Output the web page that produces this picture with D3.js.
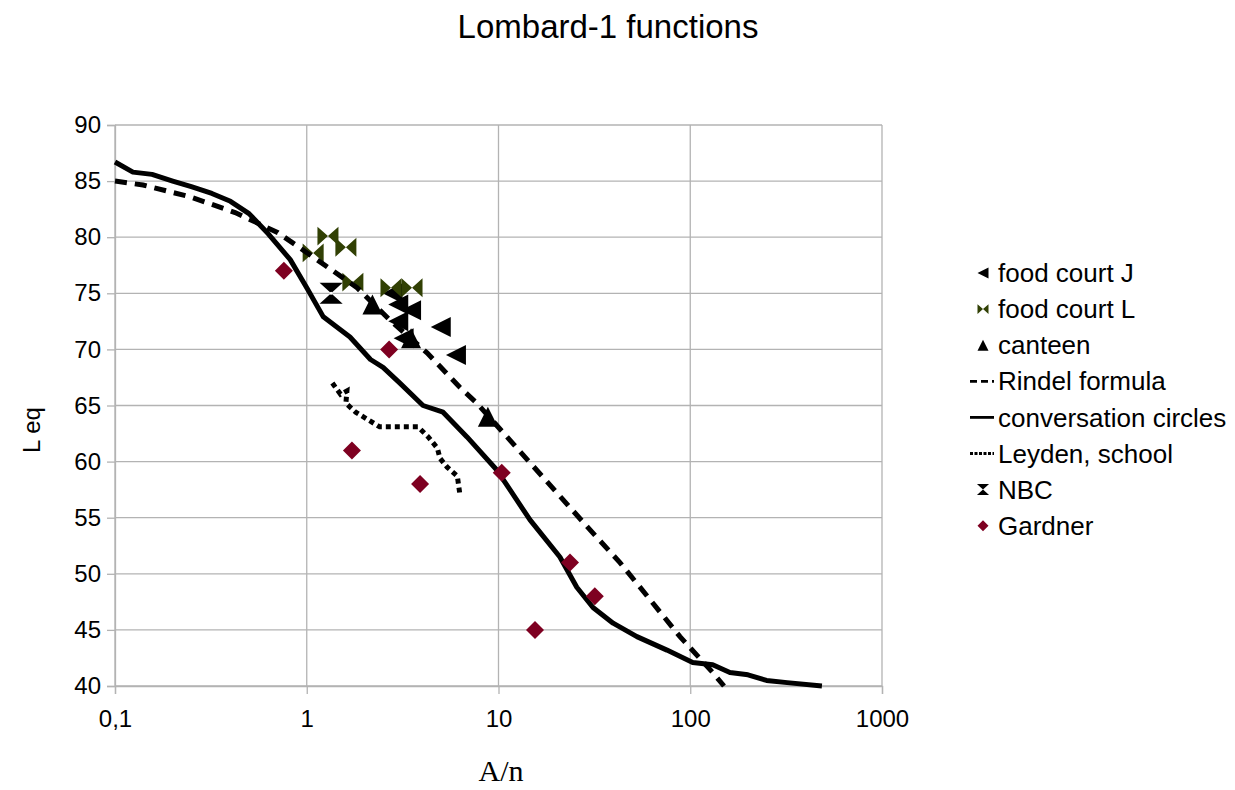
<!DOCTYPE html>
<html>
<head>
<meta charset="utf-8">
<script src="https://cdn.jsdelivr.net/npm/d3@7"></script>
<style>
body { margin: 0; background: #fff; }
text { font-family: "Liberation Sans", Arial, sans-serif; fill: #000; }
</style>
</head>
<body>
<svg id="chart" width="1235" height="790"></svg>
<script>
// ---- data ----
var xTicks = [0.1, 1, 10, 100, 1000];
var xTickLabels = ["0,1", "1", "10", "100", "1000"];
var yTicks = [40, 45, 50, 55, 60, 65, 70, 75, 80, 85, 90];

// point series
var foodJX = [2.8, 3.0, 3.5, 3.0, 3.2, 5.0, 6.0];
var foodJY = [75, 74, 73.5, 72.5, 71, 72, 69.5];
var foodLX = [1.08, 1.29, 1.60, 1.74, 2.75, 3.54];
var foodLY = [78.6, 80.1, 79.1, 76.0, 75.5, 75.5];
var canteenX = [2.2, 3.5, 8.8];
var canteenY = [74, 71, 64];
var nbcX = [1.34];
var nbcY = [75];
var gardnerX = [0.76, 2.69, 1.72, 3.9, 10.4, 23.6, 31.8, 15.5];
var gardnerY = [77, 70, 61, 58, 59, 51, 48, 45];

// line series
var rindelX = [0.1, 0.14, 0.246, 0.423, 0.708, 1.13, 1.83, 2.72, 4.24, 6.3, 7.72, 29, 43, 61.7, 88.4, 131, 150];
var rindelY = [85.0, 84.65, 83.6, 82.2, 80.4, 78.0, 75.5, 72.6, 69.7, 66.6, 65.2, 54.2, 51.0, 47.7, 44.4, 41.2, 40.0];
var convX = [0.1, 0.124, 0.156, 0.2, 0.25, 0.32, 0.4, 0.5, 0.63, 0.82, 1.0, 1.22, 1.68, 2.15, 2.5, 3.06, 4.04, 5.14, 6.85, 9.8, 14.6, 20.9, 25.6, 31.1, 39.6, 52.7, 75.6, 103, 131, 161, 200, 250, 320, 486];
var convY = [86.7, 85.8, 85.6, 85.0, 84.5, 83.9, 83.2, 82.1, 80.3, 78.0, 75.5, 72.9, 71.1, 69.1, 68.4, 67.0, 65.0, 64.4, 62.2, 59.25, 54.8, 51.5, 48.8, 47.0, 45.6, 44.4, 43.2, 42.1, 41.9, 41.2, 41.0, 40.5, 40.3, 40.0];
var leydenX = [1.36, 1.5, 1.62, 1.6, 1.8, 2.4, 3.8, 4.3, 4.8, 4.95, 5.4, 6.1, 6.3];
var leydenY = [67, 66, 66.3, 65.2, 64.4, 63.1, 63.1, 62.2, 61.2, 60.3, 59.5, 58.7, 57.0];

var legendNames = ["food court J", "food court L", "canteen", "Rindel formula",
                   "conversation circles", "Leyden, school", "NBC", "Gardner"];

var olive = "#314004", wine = "#7e0021", grid = "#b3b3b3";

var svg = d3.select("#chart"),
    margin = {top: 125, right: 353, bottom: 104, left: 115},
    width = +svg.attr("width") - margin.left - margin.right,
    height = +svg.attr("height") - margin.top - margin.bottom,
    g = svg.append("g").attr("transform", "translate(" + margin.left + "," + margin.top + ")");

var x = d3.scaleLog().domain([0.1, 1000]).range([0, width]);
var y = d3.scaleLinear().domain([40, 90]).range([height, 0]);

function zip(xs, ys) { return xs.map(function(v, i) { return [v, ys[i]]; }); }

// marker shapes, s = size
function leftTri(s) { return "M" + (-s/2) + ",0L" + (s/2) + "," + (-s/2) + "L" + (s/2) + "," + (s/2) + "Z"; }
function upTri(s) { return "M0," + (-s/2) + "L" + (s/2) + "," + (s/2) + "L" + (-s/2) + "," + (s/2) + "Z"; }
function bowtie(s) { var w = s/2, h = s*0.45;
  return "M" + (-w) + "," + (-h) + "L0,0L" + (-w) + "," + h + "Z M" + w + "," + (-h) + "L0,0L" + w + "," + h + "Z"; }
function hourglass(s) { var w = s*0.55, h = s/2;
  return "M" + (-w) + "," + (-h) + "L" + w + "," + (-h) + "L0,0Z M" + (-w) + "," + h + "L" + w + "," + h + "L0,0Z"; }
function diamond(s) { var r = s/2; return "M0," + (-r) + "L" + r + ",0L0," + r + "L" + (-r) + ",0Z"; }

// grid
g.append("g").selectAll("line").data(yTicks).enter().append("line")
  .attr("x1", 0).attr("x2", width)
  .attr("y1", function(d) { return y(d); }).attr("y2", function(d) { return y(d); })
  .attr("stroke", grid).attr("stroke-width", 1.3);
g.append("g").selectAll("line").data(xTicks).enter().append("line")
  .attr("x1", function(d) { return x(d); }).attr("x2", function(d) { return x(d); })
  .attr("y1", 0).attr("y2", height)
  .attr("stroke", grid).attr("stroke-width", 1.3);

// axes
var xAxis = g.append("g").attr("transform", "translate(0," + height + ")")
  .call(d3.axisBottom(x).tickValues(xTicks).tickSize(8).tickPadding(16)
    .tickFormat(function(d, i) { return xTickLabels[i]; }));
var yAxis = g.append("g")
  .call(d3.axisLeft(y).tickValues(yTicks).tickSize(8).tickPadding(6));
[xAxis, yAxis].forEach(function(a) {
  a.select(".domain").attr("stroke", grid).attr("stroke-width", 1.3);
  a.selectAll(".tick line").attr("stroke", grid).attr("stroke-width", 1.3);
  a.selectAll(".tick text").attr("font-size", 24).attr("font-family", "Liberation Sans, Arial, sans-serif").attr("fill", "#000");
});

// series in legend order
var line = d3.line().x(function(d) { return x(d[0]); }).y(function(d) { return y(d[1]); });

function points(xs, ys, shape, size, color) {
  g.append("g").selectAll("path").data(zip(xs, ys)).enter().append("path")
    .attr("transform", function(d) { return "translate(" + x(d[0]) + "," + y(d[1]) + ")"; })
    .attr("d", shape(size)).attr("fill", color);
}

points(foodJX, foodJY, leftTri, 20, "#000");
points(foodLX, foodLY, bowtie, 21, olive);
points(canteenX, canteenY, upTri, 20, "#000");

g.append("path").datum(zip(rindelX, rindelY)).attr("d", line)
  .attr("fill", "none").attr("stroke", "#000").attr("stroke-width", 5)
  .attr("stroke-dasharray", "12,8");
g.append("path").datum(zip(convX, convY)).attr("d", line)
  .attr("fill", "none").attr("stroke", "#000").attr("stroke-width", 5)
  .attr("stroke-linejoin", "round");
g.append("path").datum(zip(leydenX, leydenY)).attr("d", line)
  .attr("fill", "none").attr("stroke", "#000").attr("stroke-width", 5)
  .attr("stroke-dasharray", "5,4");

var nbc = g.append("g").selectAll("g").data(zip(nbcX, nbcY)).enter().append("g")
  .attr("transform", function(d) { return "translate(" + x(d[0]) + "," + y(d[1]) + ")"; });
nbc.append("path").attr("d", hourglass(21)).attr("fill", "#000");
nbc.append("circle").attr("r", 1.5).attr("fill", "#fff");

points(gardnerX, gardnerY, diamond, 18, wine);

// titles
svg.append("text").attr("x", 608).attr("y", 38).attr("text-anchor", "middle")
  .attr("font-size", 33).text("Lombard-1 functions");
svg.append("text").attr("x", 501).attr("y", 781).attr("text-anchor", "middle")
  .style("font-family", "'Liberation Serif', 'Times New Roman', serif")
  .attr("font-size", 30).text("A/n");
svg.append("text").attr("transform", "translate(40,430) rotate(-90)")
  .attr("text-anchor", "middle").attr("font-size", 24).text("L eq");

// legend
var legend = svg.append("g").selectAll("g").data(legendNames).enter().append("g")
  .attr("transform", function(d, i) { return "translate(983," + (273 + i * 36.1) + ")"; });
legend.append("text").attr("x", 15).attr("dy", "0.35em").attr("font-size", 26)
  .text(function(d) { return d; });
legend.each(function(d, i) {
  var e = d3.select(this);
  if (i === 0) e.append("path").attr("d", leftTri(11)).attr("fill", "#000");
  if (i === 1) e.append("path").attr("d", bowtie(11)).attr("fill", olive);
  if (i === 2) e.append("path").attr("d", upTri(11)).attr("fill", "#000");
  if (i === 6) e.append("path").attr("d", hourglass(11)).attr("fill", "#000");
  if (i === 7) e.append("path").attr("d", diamond(11)).attr("fill", wine);
  if (i === 3 || i === 4 || i === 5) {
    e.append("line").attr("x1", -13).attr("x2", 11).attr("y1", 0).attr("y2", 0)
      .attr("stroke", "#000").attr("stroke-width", 2.8)
      .attr("stroke-dasharray", i === 3 ? "7,4" : (i === 5 ? "3,1.5" : null));
  }
});
</script>
</body>
</html>
